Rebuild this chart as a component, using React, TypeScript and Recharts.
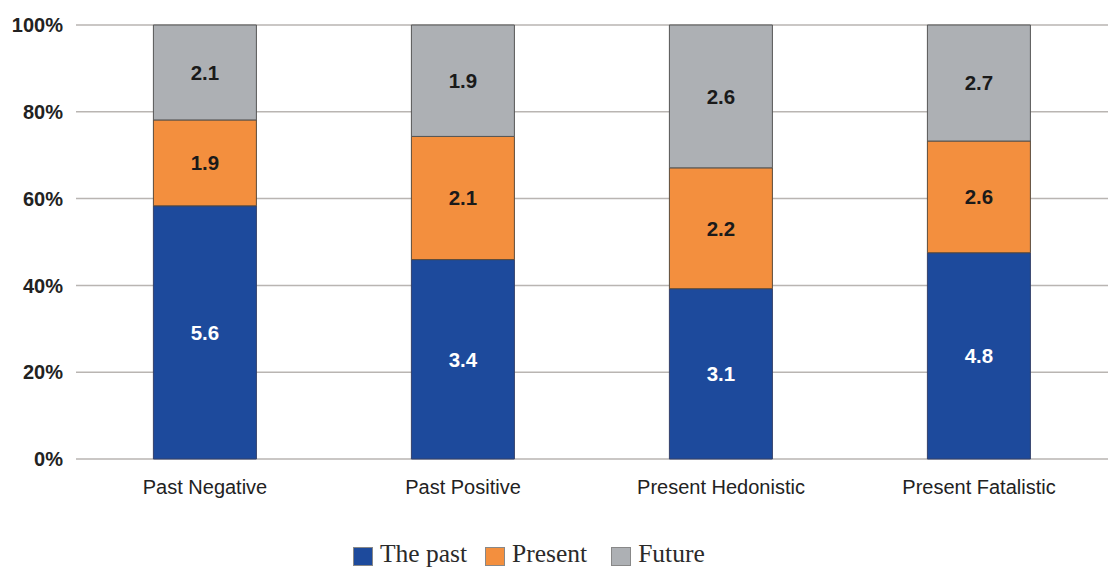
import React from 'react';
import { BarChart, Bar, XAxis, YAxis, CartesianGrid, Legend, LabelList } from 'recharts';

const categories = ['Past Negative', 'Past Positive', 'Present Hedonistic', 'Present Fatalistic'];
const pastValues = [5.6, 3.4, 3.1, 4.8];
const presentValues = [1.9, 2.1, 2.2, 2.6];
const futureValues = [2.1, 1.9, 2.6, 2.7];
const yTicks = [0, 0.2, 0.4, 0.6, 0.8, 1];
const seriesNames = ['The past', 'Present', 'Future'];
const seriesColors = ['#1d4a9c', '#f38f3e', '#adb0b4'];

const data = categories.map((name, i) => ({
  name,
  past: pastValues[i],
  present: presentValues[i],
  future: futureValues[i],
}));

const LegendContent = () => (
  <div
    style={{
      display: 'flex',
      alignItems: 'center',
      height: 30,
      paddingLeft: 353,
      fontFamily: '"Liberation Serif", "DejaVu Serif", serif',
      fontSize: 25.5,
      color: '#2a2a2a',
      boxSizing: 'border-box',
    }}
  >
    {seriesNames.map((n, i) => (
      <div key={n} style={{ display: 'flex', alignItems: 'center', marginRight: i === 0 ? 18 : 24 }}>
        <div
          style={{
            width: 20,
            height: 19,
            background: seriesColors[i],
            border: '1px solid #888',
            boxSizing: 'border-box',
            marginRight: 7,
            marginTop: 4,
          }}
        />
        <span style={{ lineHeight: '30px' }}>{n}</span>
      </div>
    ))}
  </div>
);

export default function App() {
  const labelStyle = { fontFamily: '"Liberation Sans", Arial, sans-serif', fontWeight: 700, fontSize: 20.5 };
  return (
    <div style={{ position: 'absolute', left: 0, top: 0, width: 1108, height: 569, background: '#fff' }}>
      <BarChart
        width={1108}
        height={569}
        data={data}
        stackOffset="expand"
        barCategoryGap="30%"
        margin={{ top: 25, right: 0, bottom: 0, left: 0 }}
      >
        <CartesianGrid horizontal vertical={false} stroke="#b9b5b2" strokeWidth={1.5} />
        <XAxis
          dataKey="name"
          axisLine={false}
          tickLine={false}
          tickSize={0}
          tickMargin={21}
          height={80}
          interval={0}
          tick={{ fill: '#222', fontSize: 20, fontFamily: '"Liberation Sans", Arial, sans-serif' }}
        />
        <YAxis
          width={76}
          domain={[0, 1]}
          ticks={yTicks}
          axisLine={false}
          tickLine={false}
          tickSize={0}
          tickMargin={13}
          tickFormatter={(v: number) => `${Math.round(v * 100)}%`}
          tick={{ fill: '#222', fontSize: 20, fontWeight: 700, fontFamily: '"Liberation Sans", Arial, sans-serif' }}
        />
        <Legend verticalAlign="bottom" content={<LegendContent />} wrapperStyle={{ left: 0, width: 1108 }} />
        <Bar dataKey="past" name={seriesNames[0]} stackId="a" fill={seriesColors[0]} stroke="#33406a" strokeWidth={1} isAnimationActive={false}>
          <LabelList dataKey="past" position="center" fill="#ffffff" style={labelStyle} />
        </Bar>
        <Bar dataKey="present" name={seriesNames[1]} stackId="a" fill={seriesColors[1]} stroke="#5a4a3a" strokeWidth={1} isAnimationActive={false}>
          <LabelList dataKey="present" position="center" fill="#1a1a1a" style={labelStyle} />
        </Bar>
        <Bar dataKey="future" name={seriesNames[2]} stackId="a" fill={seriesColors[2]} stroke="#555" strokeWidth={1} isAnimationActive={false}>
          <LabelList dataKey="future" position="center" fill="#1a1a1a" style={labelStyle} />
        </Bar>
      </BarChart>
    </div>
  );
}
